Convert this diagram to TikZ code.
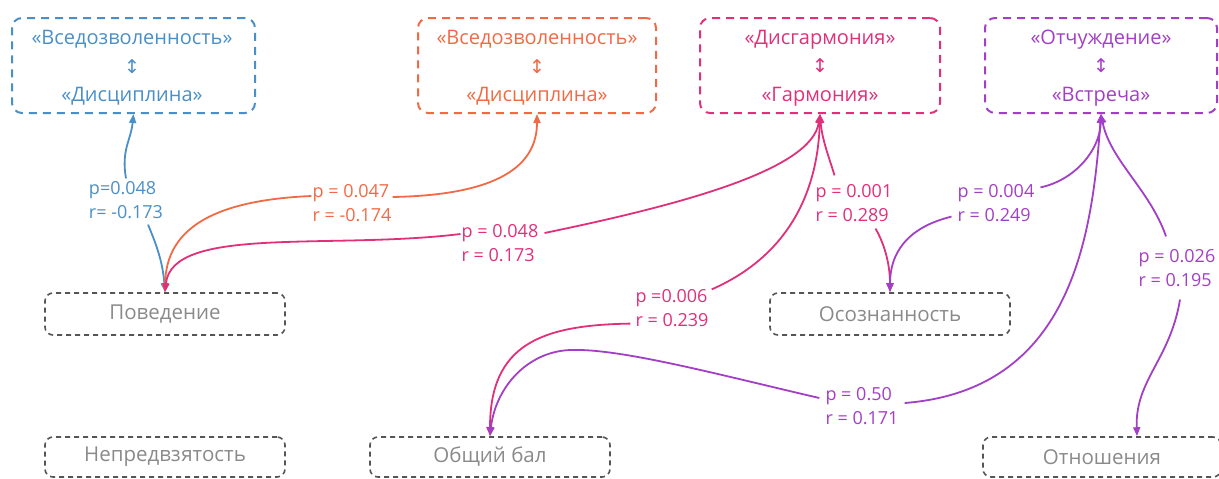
\documentclass[tikz,border=0pt]{standalone}
\usepackage{fontspec}
\setmainfont{Open Sans}
\newfontfamily\arrfont{DejaVu Sans}
\usetikzlibrary{arrows.meta,calc}
\definecolor{cblue}{HTML}{4A8FC8}
\definecolor{corange}{HTML}{F26A45}
\definecolor{cpink}{HTML}{E0307A}
\definecolor{cpurple}{HTML}{A23FC6}
\definecolor{cgrayline}{HTML}{555555}
\definecolor{cgraytext}{HTML}{8A8A8A}
\newcommand{\updown}{{\arrfont\fontsize{19}{29}\selectfont ↕}}
\tikzset{
  topbox/.style={draw=#1, line width=2pt, dash pattern=on 8pt off 6pt,
    rounded corners=10pt, minimum height=95pt, inner sep=0pt},
  toptext/.style={text=#1, align=center, font=\fontsize{20}{28.5}\selectfont, inner sep=0pt},
  varbox/.style={draw=cgrayline, text=cgraytext, line width=1.6pt,
    dash pattern=on 5pt off 4pt, rounded corners=8pt, minimum width=240pt,
    font=\fontsize{20.5}{23}\selectfont, inner sep=0pt},
  lbl/.style={text=#1, align=left, font=\fontsize{18}{23.5}\selectfont, inner sep=3pt},
  link/.style={draw=#1, line width=1.8pt, -{Triangle[length=9pt,width=7pt]}}
}
\begin{document}
\begin{tikzpicture}[x=1pt,y=-1pt]
\useasboundingbox (0,0) rectangle (1219,479);
% top boxes
\node[topbox=cblue, minimum width=243pt] (b1) at (133.5,65.5) {};
\node[toptext=cblue] (b1t) at (132,68) {«Вседозволенность»\\\updown\\«Дисциплина»};
\node[topbox=corange, minimum width=238pt] (b2) at (537,65.5) {};
\node[toptext=corange] (b2t) at (537,68) {«Вседозволенность»\\\updown\\«Дисциплина»};
\node[topbox=cpink, minimum width=240pt] (b3) at (820,65.5) {};
\node[toptext=cpink] (b3t) at (820,68) {«Дисгармония»\\\updown\\«Гармония»};
\node[topbox=cpurple, minimum width=232pt] (b4) at (1101,65.5) {};
\node[toptext=cpurple] (b4t) at (1101,68) {«Отчуждение»\\\updown\\«Встреча»};
% variable boxes
\node[varbox, minimum height=42pt] (pov) at (165,314) {Поведение};
\node[varbox, minimum height=42pt] (oso) at (890,314) {Осознанность};
\node[varbox, minimum height=40pt] (nep) at (165,457) {Непредвзятость};
\node[varbox, minimum height=40pt] (gen) at (490,457) {Общий бал};
\node[varbox, minimum height=40pt, minimum width=238pt] (otn) at (1102,457) {Отношения};
\coordinate (otnin) at ($(otn.north)+(35,0)$);
% labels
\node[lbl=cblue] (lb1) at (126,200) {p=0.048\\r= -0.173};
\node[lbl=corange] (lo) at (352,203) {p = 0.047\\r = -0.174};
\node[lbl=cpink] (lp1) at (500,243) {p = 0.048\\r = 0.173};
\node[lbl=cpink] (lp2) at (854,203) {p = 0.001\\r = 0.289};
\node[lbl=cpink] (lp3) at (672,308) {p =0.006\\r = 0.239};
\node[lbl=cpurple] (lq1) at (996,203) {p = 0.004\\r = 0.249};
\node[lbl=cpurple] (lq2) at (862,406) {p = 0.50\\r = 0.171};
\node[lbl=cpurple] (lq3) at (1177,268) {p = 0.026\\r = 0.195};
% blue
\draw[link=cblue] (lb1.north) .. controls (121,150) and (131,140) .. (b1.south);
\draw[link=cblue] ($(lb1.south)+(22,3)$) .. controls (158,248) and (163,265) .. (pov.north);
% orange
\draw[link=corange] ($(lo.west)+(2,-7)$) .. controls (220,200) and (166,225) .. (pov.north);
\draw[link=corange] ($(lo.east)+(-2,-6)$) .. controls (500,195) and (537,165) .. (b2.south);
% pink
\draw[link=cpink] ($(lp1.west)+(2,-9)$) .. controls (330,250) and (172,225) .. (pov.north);
\draw[link=cpink] ($(lp1.east)+(3,-10)$) .. controls (680,205) and (812,170) .. (b3.south);
\draw[link=cpink] ($(lp2.north west)+(22,-6)$) .. controls (830,160) and (822,140) .. (b3.south);
\draw[link=cpink] ($(lp2.south east)+(-20,4)$) .. controls (885,245) and (890,265) .. (oso.north);
\draw[link=cpink] ($(lp3.north east)+(0,3)$) .. controls (790,255) and (818,190) .. (b3.south);
\draw[link=cpink] ($(lp3.south west)+(-2,-6)$) .. controls (540,325) and (490,345) .. (gen.north);
% purple
\draw[link=cpurple] ($(lq1.north east)+(3,6)$) .. controls (1075,180) and (1100,150) .. (b4.south);
\draw[link=cpurple] ($(lq1.south west)+(-3,-8)$) .. controls (905,228) and (890,255) .. (oso.north);
\draw[link=cpurple] ($(lq2.east)+(3,-3)$) .. controls (1070,390) and (1092,240) .. (b4.south);
\draw[link=cpurple] ($(lq2.west)+(-3,-8)$) .. controls (720,375) and (620,348) .. (570,350)
  .. controls (525,352) and (495,390) .. (gen.north);
\draw[link=cpurple] ($(lq3.north)+(-11,-10)$) .. controls (1150,190) and (1110,160) .. (b4.south);
\draw[link=cpurple] ($(lq3.south)+(3,10)$) .. controls (1170,360) and (1135,380) .. (otnin);
\end{tikzpicture}
\end{document}
